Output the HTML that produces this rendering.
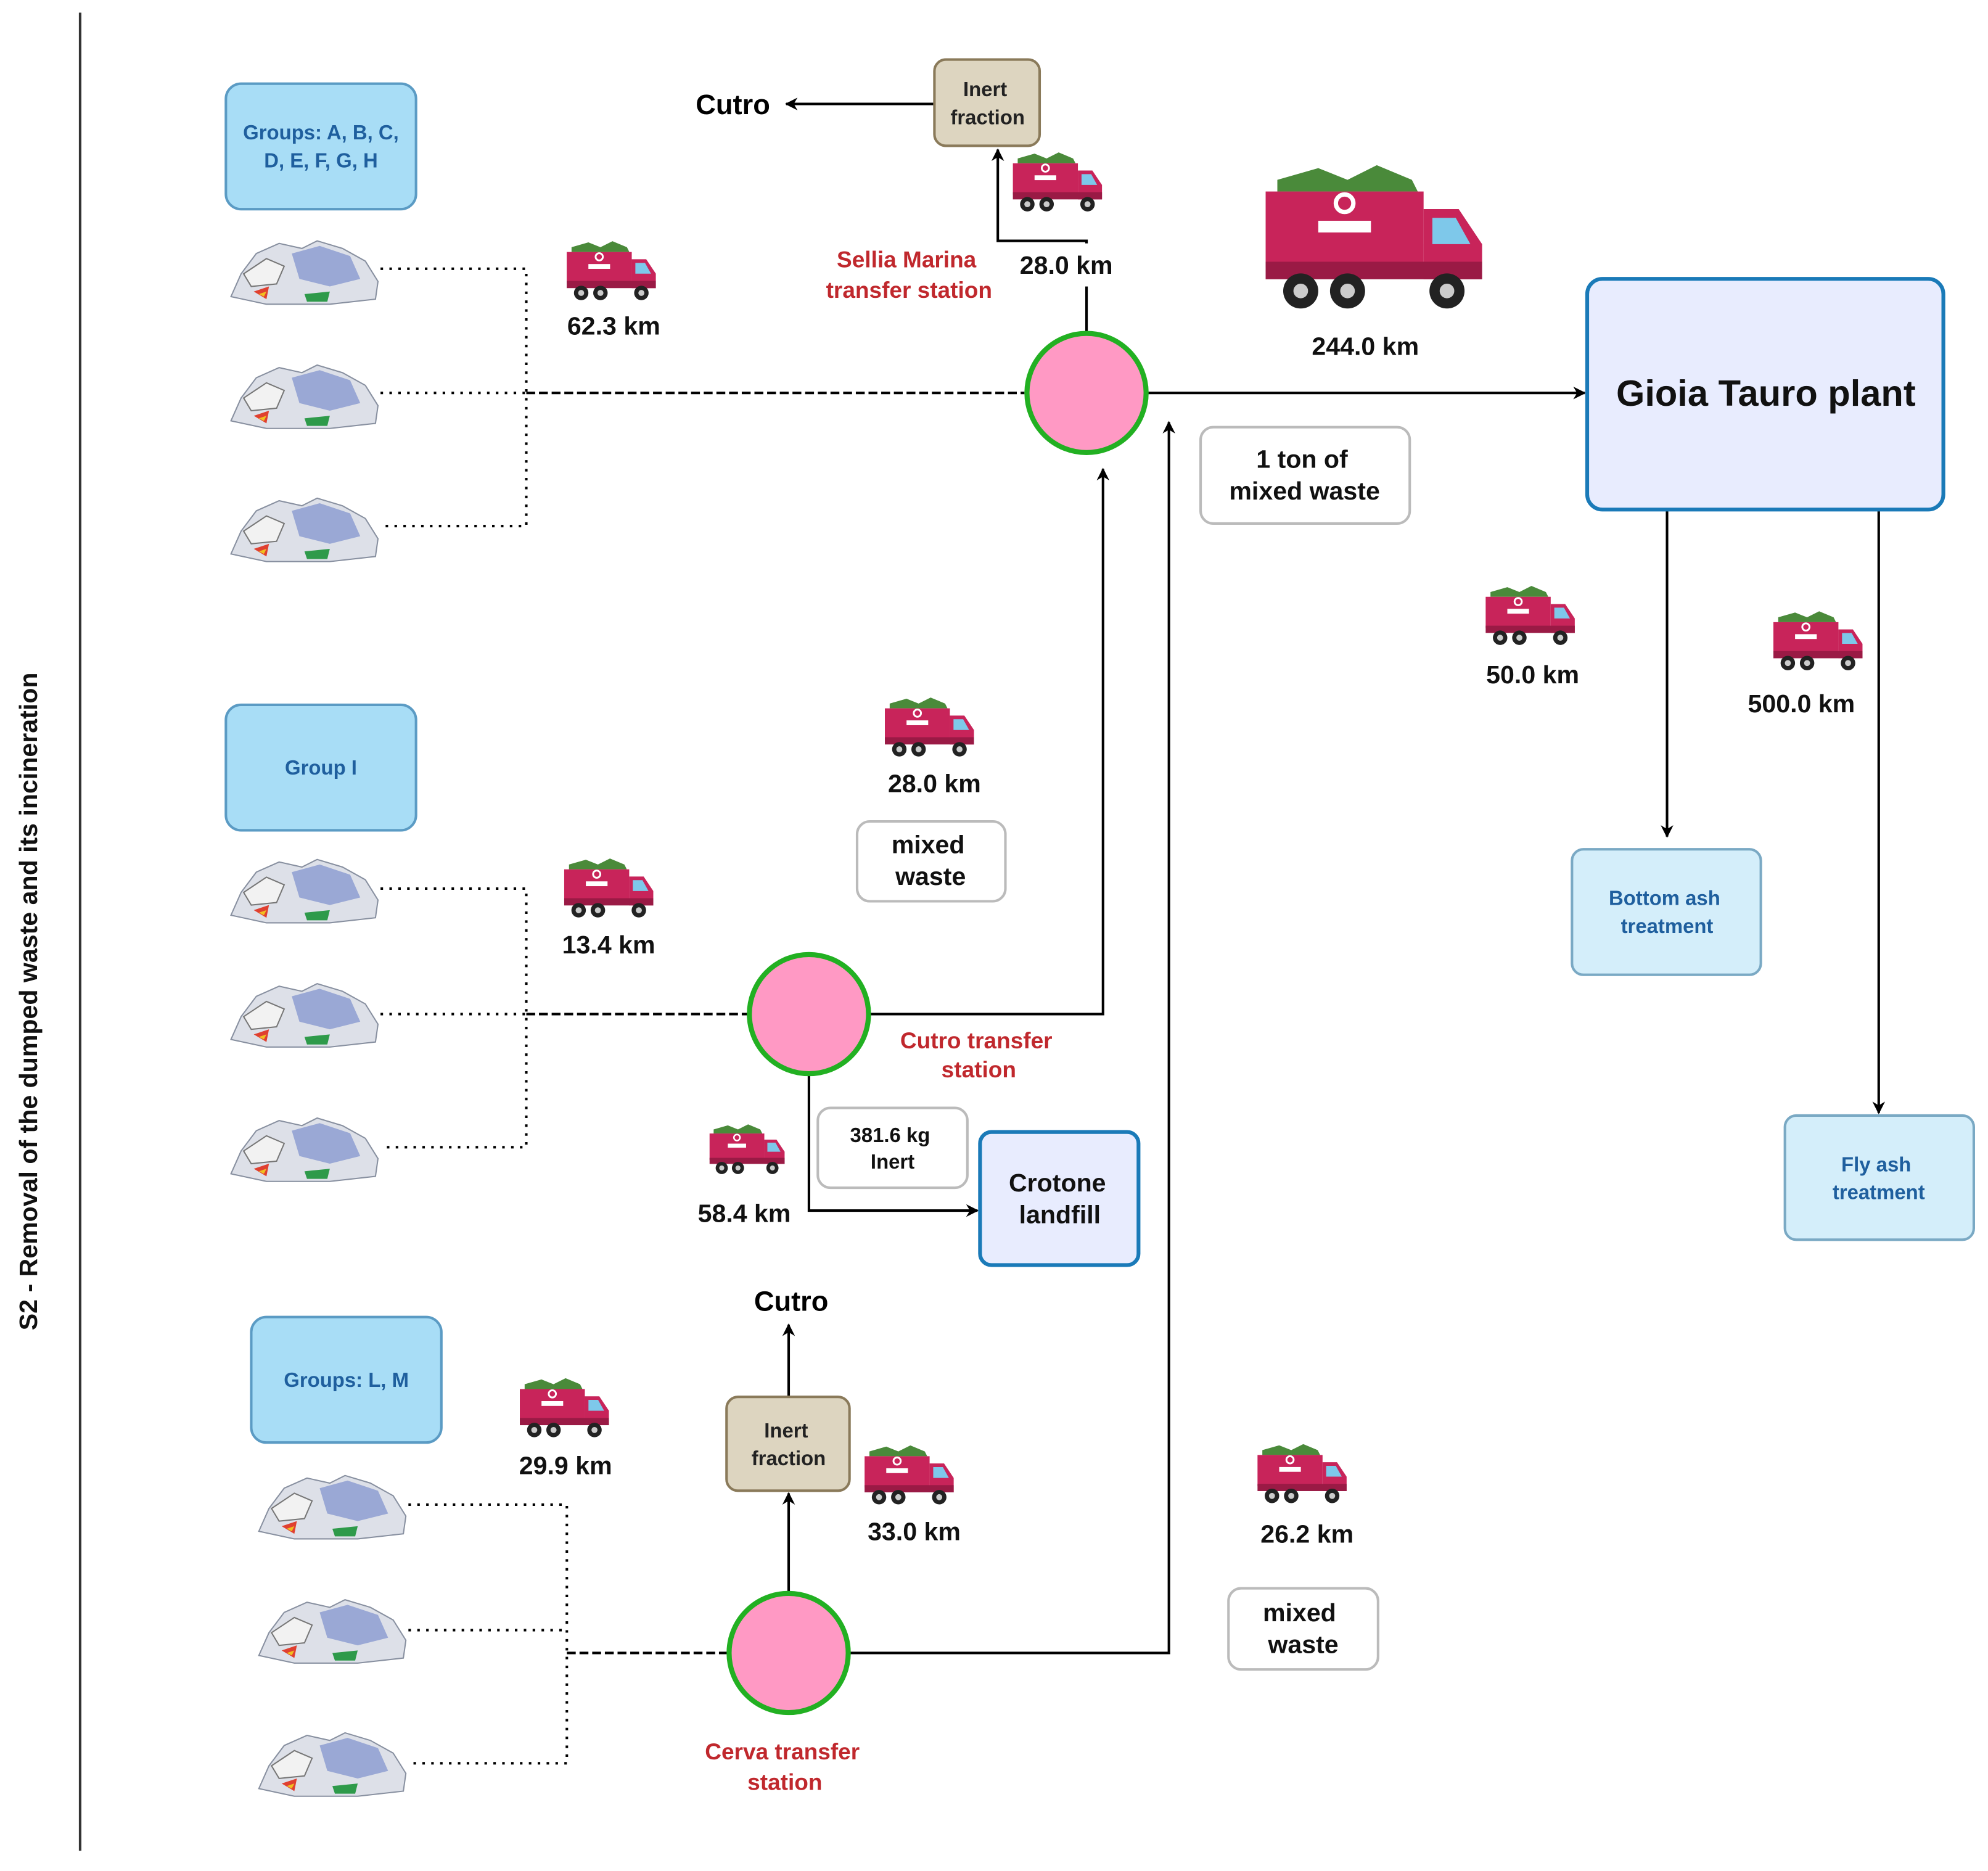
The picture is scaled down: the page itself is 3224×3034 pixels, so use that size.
<!DOCTYPE html>
<html><head><meta charset="utf-8"><style>
html,body{margin:0;padding:0;background:#fff}
svg{display:block}
text{font-family:"Liberation Sans","DejaVu Sans",sans-serif;font-weight:bold}
</style></head><body>
<svg width="3224" height="3034" viewBox="0 0 1568 1476" xmlns="http://www.w3.org/2000/svg">
<defs>
<marker id="ah" markerWidth="10" markerHeight="10" refX="9" refY="5" orient="auto" markerUnits="userSpaceOnUse">
<path d="M0,0 L10,5 L0,10 L3,5 z" fill="#000"/></marker>
<symbol id="truck" viewBox="0 0 80 52">
<path d="M6,6 L20,2 L30,6 L40,1 L52,6 L54,10 L6,10z" fill="#4a8a3a"/>
<rect x="2" y="10" width="54" height="26" fill="#c8245a"/>
<path d="M56,16 L68,16 L76,28 L76,40 L56,40z" fill="#c8245a"/>
<path d="M59,19 L67,19 L72,28 L59,28z" fill="#7ec8ea"/>
<rect x="2" y="34" width="74" height="6" fill="#9a1a45"/>
<circle cx="29" cy="14" r="3" fill="none" stroke="#fff" stroke-width="1.5"/>
<rect x="20" y="20" width="18" height="4" fill="#fff"/>
<circle cx="14" cy="44" r="6" fill="#222"/><circle cx="14" cy="44" r="2.5" fill="#ccc"/>
<circle cx="30" cy="44" r="6" fill="#222"/><circle cx="30" cy="44" r="2.5" fill="#ccc"/>
<circle cx="64" cy="44" r="6" fill="#222"/><circle cx="64" cy="44" r="2.5" fill="#ccc"/>
</symbol>
<symbol id="pile" viewBox="0 0 120 56">
<path d="M2,48 L10,30 L22,14 L40,6 L58,10 L70,4 L90,10 L108,20 L118,36 L116,50 L80,54 L30,54z" fill="#dde0e8" stroke="#8890a0" stroke-width="1"/>
<path d="M50,14 L72,8 L96,16 L104,34 L80,40 L56,34z" fill="#8a9ad0" opacity="0.8"/>
<path d="M12,30 L30,18 L44,24 L38,38 L18,40z" fill="#f2f2f2" stroke="#777" stroke-width="1"/>
<path d="M20,44 L32,40 L30,50z" fill="#e04030"/><path d="M60,46 L80,44 L78,52 L62,52z" fill="#2e9a4a"/>
<path d="M24,46 L30,44 L28,48z" fill="#f0c020"/>
</symbol>
</defs>
<line x1="63" y1="10" x2="63" y2="1460" stroke="#333" stroke-width="2"/>
<text transform="translate(29,790) rotate(-90)" text-anchor="middle" font-size="20" fill="#111">S2 - Removal of the dumped waste and its incineration</text>

<g fill="#a8ddf6" stroke="#5b9bc4" stroke-width="2">
<rect x="178" y="66" width="150" height="99" rx="12"/>
<rect x="178" y="556" width="150" height="99" rx="12"/>
<rect x="198" y="1039" width="150" height="99" rx="12"/>
</g>
<g fill="#1f5f9e" font-size="16" text-anchor="middle">
<text x="253" y="110">Groups: A, B, C,</text><text x="253" y="132">D, E, F, G, H</text>
<text x="253" y="611">Group I</text>
<text x="273" y="1094">Groups: L, M</text>
</g>

<use href="#pile" x="180" y="186" width="120" height="56"/>
<use href="#pile" x="180" y="284" width="120" height="56"/>
<use href="#pile" x="180" y="389" width="120" height="56"/>
<use href="#pile" x="180" y="674" width="120" height="56"/>
<use href="#pile" x="180" y="772" width="120" height="56"/>
<use href="#pile" x="180" y="878" width="120" height="56"/>
<use href="#pile" x="202" y="1160" width="120" height="56"/>
<use href="#pile" x="202" y="1258" width="120" height="56"/>
<use href="#pile" x="202" y="1363" width="120" height="56"/>

<g stroke="#000" stroke-width="2" stroke-dasharray="2,5" fill="none">
<path d="M300,212 H415 V415 H300 M300,310 H415"/>
<path d="M300,701 H415 V905 H300 M300,800 H415"/>
<path d="M322,1187 H447 V1391 H322 M322,1286 H447"/>
</g>
<g stroke="#000" stroke-width="2" stroke-dasharray="7,3" fill="none">
<path d="M415,310 H808"/><path d="M415,800 H590"/><path d="M447,1304 H574"/>
</g>

<g stroke="#000" stroke-width="2" fill="none" marker-end="url(#ah)">
<path d="M905,310 H1250"/>
<path d="M857,263 V190 H787 V118"/>
<path d="M737,82 H620"/>
<path d="M686,800 H870 V370"/>
<path d="M638,847 V955 H771"/>
<path d="M622,1257 V1178"/>
<path d="M622,1102 V1045"/>
<path d="M670,1304 H922 V333"/>
<path d="M1315,402 V660"/>
<path d="M1482,402 V878"/>
</g>
<rect x="798" y="192" width="86" height="34" fill="#fff"/>

<g fill="#ff99c4" stroke="#22b022" stroke-width="4">
<circle cx="857" cy="310" r="47"/><circle cx="638" cy="800" r="47"/><circle cx="622" cy="1304" r="47"/>
</g>

<g fill="#ddd5c0" stroke="#8a7a5a" stroke-width="2">
<rect x="737" y="47" width="83" height="68" rx="9"/>
<rect x="573" y="1102" width="97" height="74" rx="9"/>
</g>
<g font-size="16" fill="#222" text-anchor="middle">
<text x="777" y="76">Inert</text><text x="779" y="98">fraction</text>
<text x="620" y="1134">Inert</text><text x="622" y="1156">fraction</text>
</g>
<text x="578" y="90" font-size="22" text-anchor="middle" fill="#000">Cutro</text>
<text x="624" y="1034" font-size="22" text-anchor="middle" fill="#000">Cutro</text>

<rect x="1252" y="220" width="281" height="182" rx="12" fill="#e8ecfe" stroke="#1a7ab8" stroke-width="3"/>
<text x="1393" y="320" font-size="29" text-anchor="middle" fill="#111">Gioia Tauro plant</text>
<rect x="773" y="893" width="125" height="105" rx="9" fill="#e8ecfe" stroke="#1a7ab8" stroke-width="3"/>
<text x="834" y="940" font-size="20" text-anchor="middle" fill="#111" font-weight="normal">Crotone</text>
<text x="836" y="965" font-size="20" text-anchor="middle" fill="#111" font-weight="normal">landfill</text>

<g fill="#d4eefa" stroke="#7aa9c4" stroke-width="2">
<rect x="1240" y="670" width="149" height="99" rx="9"/>
<rect x="1408" y="880" width="149" height="98" rx="9"/>
</g>
<g fill="#1f5f9e" font-size="16" text-anchor="middle">
<text x="1313" y="714">Bottom ash</text><text x="1315" y="736">treatment</text>
<text x="1480" y="924">Fly ash</text><text x="1482" y="946">treatment</text>
</g>

<g fill="#fff" stroke="#bbb" stroke-width="2">
<rect x="947" y="337" width="165" height="76" rx="10"/>
<rect x="676" y="648" width="117" height="63" rx="10"/>
<rect x="645" y="874" width="118" height="63" rx="10"/>
<rect x="969" y="1253" width="118" height="64" rx="10"/>
</g>
<g font-size="20" fill="#111" text-anchor="middle">
<text x="1027" y="369">1 ton of</text><text x="1029" y="394">mixed waste</text>
<text x="732" y="673">mixed</text><text x="734" y="698">waste</text>
<text x="1025" y="1279">mixed</text><text x="1028" y="1304">waste</text>
<text x="702" y="901" font-size="16" font-weight="normal">381.6 kg</text><text x="704" y="922" font-size="16" font-weight="normal">Inert</text>
</g>

<g fill="#c0282d" font-size="18" text-anchor="middle">
<text x="715" y="211">Sellia Marina</text><text x="717" y="235">transfer station</text>
<text x="770" y="827">Cutro transfer</text><text x="772" y="850">station</text>
<text x="617" y="1388">Cerva transfer</text><text x="619" y="1412">station</text>
</g>

<use href="#truck" x="445" y="188" width="76" height="52"/>
<use href="#truck" x="797" y="118" width="76" height="52"/>
<use href="#truck" x="988" y="128" width="196" height="120"/>
<use href="#truck" x="1170" y="460" width="76" height="52"/>
<use href="#truck" x="1397" y="480" width="76" height="52"/>
<use href="#truck" x="696" y="548" width="76" height="52"/>
<use href="#truck" x="443" y="675" width="76" height="52"/>
<use href="#truck" x="558" y="882" width="64" height="50"/>
<use href="#truck" x="408" y="1085" width="76" height="52"/>
<use href="#truck" x="680" y="1138" width="76" height="52"/>
<use href="#truck" x="990" y="1137" width="76" height="52"/>

<g font-size="20" fill="#111" text-anchor="middle">
<text x="484" y="264">62.3 km</text>
<text x="841" y="216">28.0 km</text>
<text x="1077" y="280">244.0 km</text>
<text x="1209" y="539">50.0 km</text>
<text x="1421" y="562">500.0 km</text>
<text x="737" y="625">28.0 km</text>
<text x="480" y="752">13.4 km</text>
<text x="587" y="964">58.4 km</text>
<text x="446" y="1163">29.9 km</text>
<text x="721" y="1215">33.0 km</text>
<text x="1031" y="1217">26.2 km</text>
</g>
</svg>
</body></html>
